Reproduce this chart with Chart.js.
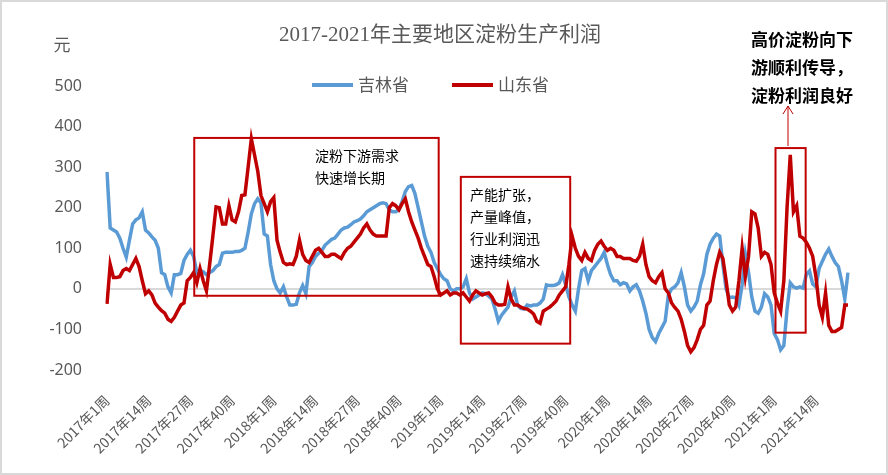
<!DOCTYPE html>
<html><head><meta charset="utf-8">
<script src="https://cdn.jsdelivr.net/npm/chart.js@4"></script>
<style>html,body{margin:0;padding:0;background:#fff}canvas{display:block}</style>
</head><body><canvas id="c" width="888" height="475"></canvas>
<script>
const years = [2017, 2018, 2019, 2020, 2021];
const weeksPerYear = 52;
const totalPoints = 232;
const categories = [];
for (let i = 0; i < totalPoints; i++) {
  const y = years[Math.floor(i / weeksPerYear)];
  categories.push(y + '年' + (i % weeksPerYear + 1) + '周');
}
const jilin = [288,150,145,140,125,100,78,120,160,170,175,190,145,138,128,120,100,40,35,5,
-10,35,35,38,70,85,95,80,40,45,42,35,40,45,55,60,88,90,90,90,
92,92,95,100,140,185,210,222,212,135,130,60,20,0,-10,5,-20,-40,-40,-38,
-10,8,-12,55,65,80,88,95,108,115,122,125,135,145,150,152,158,165,168,172,
180,190,195,200,205,210,212,210,195,190,190,195,215,240,252,255,235,200,165,130,
105,90,65,50,35,25,20,0,-5,0,0,5,25,-10,-25,-20,-15,-10,-12,-18,
-25,-50,-80,-65,-55,-45,-20,-5,-40,-48,-50,-40,-42,-40,-40,-35,-25,10,8,8,
10,15,35,10,-20,-40,-55,0,45,50,20,45,55,65,75,90,60,35,20,20,
10,15,12,-5,5,10,-5,-30,-60,-100,-120,-130,-110,-95,-80,-15,0,5,15,40,
5,-40,-55,-45,-30,10,37,85,110,125,135,130,60,0,-22,-20,-22,-40,10,85,
40,-20,-55,-60,-45,-12,-20,-40,-110,-125,-150,-140,-50,15,5,2,5,2,35,44,
12,5,50,68,85,98,80,65,55,20,-25,40];
const shandong = [-37,60,28,28,30,45,50,45,60,75,55,20,-12,-5,-15,-35,-45,-54,-60,-75,
-80,-70,-55,-40,-35,20,28,40,15,50,20,-5,60,130,202,200,160,160,205,170,
165,190,230,232,300,370,330,290,230,210,190,215,225,120,90,65,60,62,60,80,
120,85,70,65,80,95,100,90,80,80,85,85,80,75,90,100,105,115,125,135,
150,160,145,135,130,130,130,130,200,210,205,195,210,222,190,165,145,125,100,80,
60,55,30,0,-15,-10,-5,-15,-10,-10,-15,-10,-20,-30,-15,-5,-10,-15,-12,-10,
-20,-35,-40,-40,-38,5,-25,-40,-40,-45,-48,-50,-55,-62,-80,-85,-55,-50,-45,-38,
-30,-15,-5,5,60,130,100,80,70,90,75,70,95,110,118,105,95,100,95,80,
80,75,75,75,70,68,80,110,60,30,20,15,30,40,0,-10,-35,-46,-55,-75,
-105,-140,-155,-145,-125,-100,-90,-40,-30,20,60,90,75,20,-40,-55,-45,20,100,30,
80,190,185,150,80,90,85,60,-10,-35,-55,20,200,330,190,205,130,125,115,100,
80,30,-40,-70,-10,-90,-105,-105,-100,-95,-40,-40];
const seriesNames = ['吉林省', '山东省'];
const yTicks = [-200, -100, 0, 100, 200, 300, 400, 500];
// annotation boxes: [startIndex, endIndex, topValue, bottomValue]
const boxes = [[27.2, 103.4, 372, -17], [110.3, 144.4, 276, -135], [208.4, 217.8, 347, -108]];
const boxText1 = ['淀粉下游需求', '快速增长期'];
const boxText2 = ['产能扩张，', '产量峰值，', '行业利润迅', '速持续缩水'];
const sideText = ['高价淀粉向下', '游顺利传导，', '淀粉利润良好'];

const deco = {
  id: 'deco',
  afterDraw(chart) {
    const ctx = chart.ctx, xs = chart.scales.x, ys = chart.scales.y;
    ctx.save();
    ctx.fillStyle = '#595959';
    ctx.font = '21px "Liberation Serif", "Noto Sans CJK SC"';
    ctx.textAlign = 'center'; ctx.textBaseline = 'middle';
    ctx.fillText('2017-2021年主要地区淀粉生产利润', 440, 35);
    ctx.font = '17px "Noto Sans CJK SC"';
    ctx.fillText('元', 62, 45);
    ctx.lineWidth = 4; ctx.lineCap = 'butt';
    ctx.strokeStyle = '#5B9BD5'; ctx.beginPath(); ctx.moveTo(312, 85); ctx.lineTo(353, 85); ctx.stroke();
    ctx.strokeStyle = '#C00000'; ctx.beginPath(); ctx.moveTo(452, 85); ctx.lineTo(493, 85); ctx.stroke();
    ctx.font = '17px "Noto Sans CJK SC"'; ctx.textAlign = 'left';
    ctx.fillText(seriesNames[0], 358, 85);
    ctx.fillText(seriesNames[1], 498, 85);
    ctx.strokeStyle = '#C00000'; ctx.lineWidth = 2;
    boxes.forEach(b => {
      const x1 = xs.getPixelForValue(b[0]), x2 = xs.getPixelForValue(b[1]);
      const y1 = ys.getPixelForValue(b[2]), y2 = ys.getPixelForValue(b[3]);
      ctx.strokeRect(x1, y1, x2 - x1, y2 - y1);
    });
    ctx.fillStyle = '#000'; ctx.font = '14px "Noto Sans CJK SC"';
    boxText1.forEach((t, i) => ctx.fillText(t, 315, 156 + i * 22));
    boxText2.forEach((t, i) => ctx.fillText(t, 470, 195 + i * 22));
    ctx.font = 'bold 17px "Noto Sans CJK SC"'; ctx.textAlign = 'center';
    sideText.forEach((t, i) => ctx.fillText(t, 802, 40 + i * 28));
    ctx.strokeStyle = '#C00000'; ctx.lineWidth = 1;
    ctx.beginPath(); ctx.moveTo(788, 146); ctx.lineTo(788, 106); ctx.stroke();
    ctx.beginPath(); ctx.moveTo(783, 114); ctx.lineTo(788, 106); ctx.lineTo(793, 114); ctx.stroke();
    ctx.strokeStyle = '#d9d9d9'; ctx.lineWidth = 2;
    ctx.strokeRect(1, 1, 886, 473);
    ctx.restore();
  }
};

new Chart(document.getElementById('c'), {
  type: 'line',
  data: {
    labels: categories,
    datasets: [
      { label: seriesNames[0], data: jilin, borderColor: '#5B9BD5', borderWidth: 3.5, pointRadius: 0, tension: 0, order: 1 },
      { label: seriesNames[1], data: shandong, borderColor: '#C00000', borderWidth: 3.5, pointRadius: 0, tension: 0, order: 0 }
    ]
  },
  options: {
    responsive: false, animation: false, devicePixelRatio: 1,
    layout: { padding: { left: 0, right: 40, top: 86, bottom: 0 } },
    plugins: { legend: { display: false }, title: { display: false }, tooltip: { enabled: false } },
    scales: {
      x: {
        type: 'category', offset: false,
        grid: { display: false }, border: { display: false },
        afterFit(s) { s.height = 105; },
        ticks: {
          autoSkip: false, maxRotation: 45, minRotation: 45, color: '#595959',
          font: { size: 14, family: '"Noto Sans CJK SC"' }, padding: 14,
          callback(v, i) { return i % 13 === 0 ? categories[i] : null; }
        }
      },
      y: {
        min: -200, max: 500,
        afterFit(s) { s.width = 107; },
        afterBuildTicks(s) { s.ticks = yTicks.map(v => ({ value: v })); },
        border: { display: false },
        grid: { color: c => c.tick && c.tick.value === 0 ? '#d9d9d9' : 'transparent', lineWidth: 2, drawTicks: false },
        ticks: { color: '#595959', font: { size: 16, family: '"Noto Sans", sans-serif' }, padding: 25 }
      }
    }
  },
  plugins: [deco]
});
</script></body></html>
